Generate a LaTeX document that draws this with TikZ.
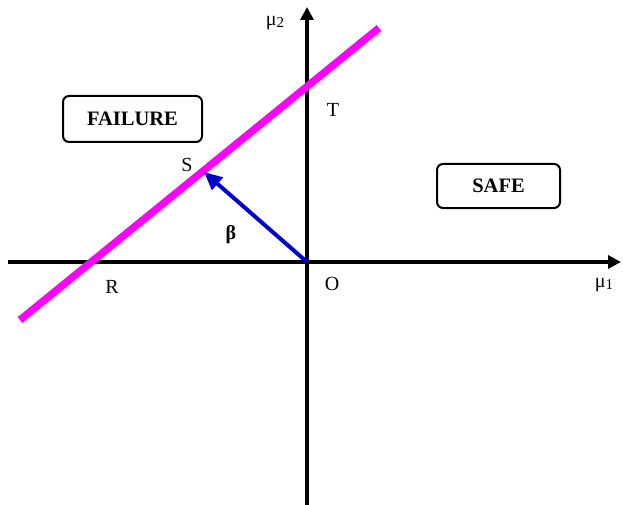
\documentclass[tikz,border=0pt]{standalone}
\usepackage{fontspec}
\setmainfont{Liberation Serif}
\usetikzlibrary{arrows.meta}
\definecolor{magentaline}{RGB}{255,0,255}
\definecolor{bluearrow}{RGB}{0,0,200}
\begin{document}
\begin{tikzpicture}[x=1pt,y=-1pt,
  axis/.style={line width=3.8pt,-{Triangle[length=13pt,width=13pt]}},
  regionbox/.style={draw,line width=2pt,rounded corners=6pt,minimum width=139pt,minimum height=46pt,font=\fontsize{20.5}{21}\selectfont\bfseries},
  lbl/.style={font=\fontsize{20}{21}\selectfont,inner sep=0pt},
  mulbl/.style={font=\fontsize{20}{21}\selectfont,inner sep=0pt}]
\useasboundingbox (0,0) rectangle (623,505);
\coordinate (xl) at (8,262);
\coordinate (xr) at (621,262);
\coordinate (yb) at (307,505);
\coordinate (yt) at (307,7);
\coordinate (O) at (307,262);
\coordinate (L1) at (20,320);
\coordinate (L2) at (379,28);
\coordinate (Sp) at (204,172);
\draw[axis] (xl) -- (xr);
\draw[axis] (yb) -- (yt);
\draw[magentaline,line width=7.5pt] (L1) -- (L2);
\draw[bluearrow,line width=4pt,-{Triangle[length=18pt,width=16pt]}] (O) -- (Sp);
\node[regionbox] (failure) at (132.5,119) {FAILURE};
\node[regionbox,minimum width=123pt,minimum height=44pt] (safe) at (498.5,186) {SAFE};
\node[mulbl] (mu2) at (275,23) {μ\raisebox{-2pt}{\fontsize{15}{15}\selectfont 2}};
\node[mulbl] (mu1) at (604,285) {μ\raisebox{-2pt}{\fontsize{15}{15}\selectfont 1}};
\node[lbl] (T) at (333,110) {T};
\node[lbl] (S) at (187,165) {S};
\node[lbl] (R) at (112,287) {R};
\node[lbl] (Olbl) at (332,284) {O};
\node[lbl,font=\fontsize{20}{21}\selectfont\bfseries] (beta) at (231,235) {β};
\end{tikzpicture}
\end{document}
